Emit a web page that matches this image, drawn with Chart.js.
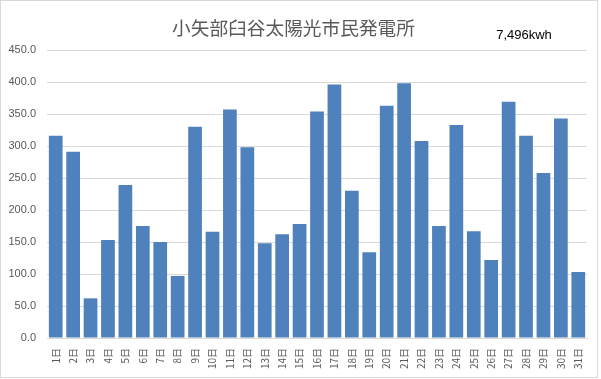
<!DOCTYPE html>
<html>
<head>
<meta charset="utf-8">
<script src="https://cdn.jsdelivr.net/npm/chart.js@4/dist/chart.umd.min.js"></script>
<style>
  html, body { margin: 0; padding: 0; background: #fff; }
  #wrap { width: 601px; height: 379px; }
</style>
</head>
<body>
<div id="wrap"><canvas id="c" width="601" height="379"></canvas></div>
<script>
const chartTitle = "小矢部臼谷太陽光市民発電所";
const totalLabel = "7,496kwh";
const days = ["1日","2日","3日","4日","5日","6日","7日","8日","9日","10日",
  "11日","12日","13日","14日","15日","16日","17日","18日","19日","20日",
  "21日","22日","23日","24日","25日","26日","27日","28日","29日","30日","31日"];
const dailyKwh = [316, 291, 62, 153, 239, 175, 150, 97, 330, 166,
  357, 298, 148, 162, 178, 354, 396, 230, 134, 363,
  398, 308, 175, 333, 167, 122, 369, 316, 258, 343, 103];
const yTickMin = 0;
const yTickMax = 450;
const yTickStep = 50;

const frameAndTotal = {
  id: 'frameAndTotal',
  beforeDraw(chart) {
    const ctx = chart.ctx;
    ctx.save();
    ctx.fillStyle = '#ffffff';
    ctx.fillRect(0, 0, chart.width, chart.height);
    ctx.restore();
  },
  afterDraw(chart) {
    const ctx = chart.ctx;
    ctx.save();
    ctx.strokeStyle = '#d9d9d9';
    ctx.lineWidth = 1;
    ctx.strokeRect(0.5, 0.5, 597, 377);
    ctx.fillStyle = '#000000';
    ctx.font = '13px "Liberation Sans", Arial, sans-serif';
    ctx.textAlign = 'center';
    ctx.textBaseline = 'middle';
    ctx.fillText(totalLabel, 524, 35);
    ctx.restore();
  }
};

new Chart(document.getElementById('c'), {
  type: 'bar',
  data: {
    labels: days,
    datasets: [{
      data: dailyKwh,
      backgroundColor: '#4f81bd',
      borderWidth: 0,
      categoryPercentage: 1.0,
      barPercentage: 0.787
    }]
  },
  options: {
    responsive: false,
    animation: false,
    devicePixelRatio: 1,
    layout: { padding: { left: 0, right: 14, top: 0, bottom: 0 } },
    plugins: {
      legend: { display: false },
      tooltip: { enabled: false },
      title: {
        display: true,
        text: chartTitle,
        color: '#595959',
        font: { family: '"Noto Sans CJK JP", sans-serif', size: 18.7, weight: 'normal', lineHeight: 1.2 },
        padding: { top: 17, bottom: 10.6 }
      }
    },
    scales: {
      x: {
        grid: { display: false, drawTicks: false },
        border: { display: true, color: '#d9d9d9', width: 1 },
        ticks: {
          autoSkip: false,
          minRotation: 90,
          maxRotation: 90,
          padding: 10,
          color: '#595959',
          font: { family: '"Noto Sans CJK JP", sans-serif', size: 10 }
        },
        afterFit(scale) { scale.height = 41; }
      },
      y: {
        min: yTickMin,
        max: yTickMax,
        grid: { color: '#d9d9d9', lineWidth: 1, drawTicks: false },
        border: { display: false },
        ticks: {
          stepSize: yTickStep,
          padding: 11,
          color: '#595959',
          font: { family: '"Liberation Sans", Arial, sans-serif', size: 11 },
          callback: (v) => Number(v).toFixed(1)
        },
        afterFit(scale) { scale.width = 47; }
      }
    }
  },
  plugins: [frameAndTotal]
});
</script>
</body>
</html>
